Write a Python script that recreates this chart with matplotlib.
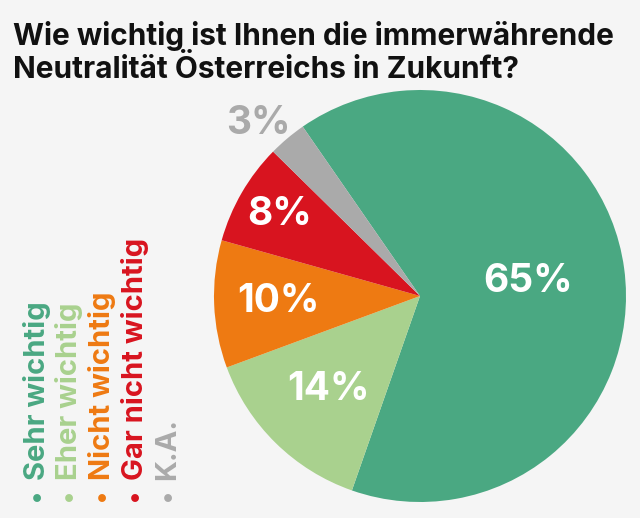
import matplotlib
matplotlib.use("Agg")
import matplotlib.pyplot as plt
import numpy as np

categories = ["Sehr wichtig", "Eher wichtig", "Nicht wichtig", "Gar nicht wichtig", "K.A."]
values = [65, 14, 10, 8, 3]
pct_labels = ["65%", "14%", "10%", "8%", "3%"]
colors = ["#4aa882", "#a9d18e", "#ee7a12", "#d8141f", "#aaaaaa"]
label_colors = ["white", "white", "white", "white", "#aaaaaa"]
label_dist = [0.53, 0.635, 0.69, 0.79, 1.15]

title_lines = ["Wie wichtig ist Ihnen die immerwährende",
               "Neutralität Österreichs in Zukunft?"]

W, H = 640, 518
bg = "#f5f5f5"
plt.rcParams['font.family'] = ['Inter', 'DejaVu Sans']

fig = plt.figure(figsize=(W / 100, H / 100), dpi=100, facecolor=bg)

# pie axes: center (420,296) radius 206 px
cx, cy, r = 420, 296, 206
ax = fig.add_axes([(cx - r) / W, (H - cy - r) / H, 2 * r / W, 2 * r / H])
ax.set_facecolor(bg)
wedges, _ = ax.pie(values, colors=colors, startangle=124.7, counterclock=False,
                   radius=1, wedgeprops=dict(linewidth=0))
ax.set_xlim(-1, 1)
ax.set_ylim(-1, 1)
ax.set_aspect('equal')
ax.axis('off')

for i, (w, lab, lc, d) in enumerate(zip(wedges, pct_labels, label_colors, label_dist)):
    mid = (w.theta1 + w.theta2) / 2
    if i == len(wedges) - 1:
        mid += 3  # outside label sits slightly left of the wedge middle
    ang = np.deg2rad(mid)
    ax.text(d * np.cos(ang), d * np.sin(ang), lab, color=lc, fontsize=28,
            fontweight='bold', ha='center', va='center', clip_on=False)

for line, base in zip(title_lines, [45, 78]):
    fig.text(13 / W, 1 - base / H, line, fontsize=21.5, fontweight='bold',
             color='#111111', ha='left', va='baseline')

# rotated legend
xs = [37, 69, 102, 135, 168]
for x, cat, col in zip(xs, categories, colors):
    fig.text(x / W, 38 / H, cat, rotation=90, color=col, fontsize=21,
             fontweight='bold', ha='center', va='bottom')
    fig.text(x / W, 20 / H, "\u2022", color=col, fontsize=18,
             ha='center', va='center')

fig.savefig("out.png", dpi=100, facecolor=bg)
